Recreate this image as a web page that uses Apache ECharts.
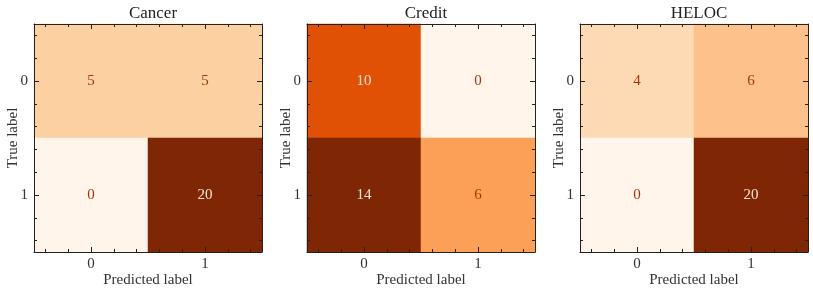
<!DOCTYPE html>
<html><head><meta charset="utf-8">
<script src="https://cdn.jsdelivr.net/npm/echarts@6/dist/echarts.min.js"></script>
<style>html,body{margin:0;padding:0;background:#fff}#c{width:813px;height:292px}</style>
</head><body><div id="c"></div>
<script>
const titles = ["Cancer", "Credit", "HELOC"];
const classLabels = ["0", "1"];
// matrices: rows = true label, cols = predicted label
const cancer = [[5, 5], [0, 20]];
const credit = [[10, 0], [14, 6]];
const heloc = [[4, 6], [0, 20]];
const minorCats = ["a","b","c","d","e","f","g","h","i","j"];
const matrices = [cancer, credit, heloc];
const oranges = ["#fff5eb","#fee6ce","#fdd0a2","#fdae6b","#fd8d3c","#f16913","#d94801","#a63603","#7f2704"];
const FONT = "Liberation Serif";
const lefts = [34, 307, 580];
const W = 228, TOP = 24;

const grids = [], xAxes = [], yAxes = [], series = [], visualMaps = [], titleArr = [];
matrices.forEach((m, i) => {
  const flat = m.flat();
  const mn = Math.min(...flat), mx = Math.max(...flat);
  const thresh = (mn + mx) / 2;
  const g = {left: lefts[i], top: TOP, width: W, height: W, containLabel: false, outerBoundsMode: "none"};
  grids.push(Object.assign({}, g));
  grids.push(Object.assign({}, g));
  const gA = 2 * i, gB = 2 * i + 1;
  const lineStyle = {color: "#222", width: 1};
  const xi = xAxes.length;
  xAxes.push({type: "category", gridIndex: gA, position: "bottom", data: classLabels,
    name: "Predicted label", nameLocation: "middle", nameGap: 21, nameMoveOverlap: false,
    nameTextStyle: {fontFamily: FONT, fontSize: 15, color: "#333", verticalAlign: "top"},
    axisLine: {show: true, lineStyle}, axisTick: {show: true, inside: true, alignWithLabel: true, length: 5, lineStyle},
    axisLabel: {fontFamily: FONT, fontSize: 15, color: "#333", margin: 5}, splitLine: {show: false}, z: 10});
  xAxes.push({type: "category", gridIndex: gA, position: "top", data: classLabels,
    axisLine: {show: true, lineStyle}, axisTick: {show: true, inside: true, alignWithLabel: true, length: 5, lineStyle},
    axisLabel: {show: false}, splitLine: {show: false}, z: 10});
  const yi = yAxes.length;
  yAxes.push({type: "category", gridIndex: gA, position: "left", data: classLabels, inverse: true,
    name: "True label", nameLocation: "middle", nameGap: 13, nameRotate: 90, nameMoveOverlap: false,
    nameTextStyle: {fontFamily: FONT, fontSize: 15, color: "#333", verticalAlign: "bottom"},
    axisLine: {show: true, lineStyle}, axisTick: {show: true, inside: true, alignWithLabel: true, length: 5, lineStyle},
    axisLabel: {fontFamily: FONT, fontSize: 15, color: "#333", margin: 6}, splitLine: {show: false}, z: 10});
  yAxes.push({type: "category", gridIndex: gA, position: "right", data: classLabels, inverse: true,
    axisLine: {show: true, lineStyle}, axisTick: {show: true, inside: true, alignWithLabel: true, length: 5, lineStyle},
    axisLabel: {show: false}, splitLine: {show: false}, z: 10});
  ["bottom", "top"].forEach(p => xAxes.push({type: "category", gridIndex: gB, position: p, data: minorCats,
    axisLine: {show: false}, axisTick: {show: true, inside: true, alignWithLabel: true, interval: 0, length: 3, lineStyle},
    axisLabel: {show: false, interval: 0}, splitLine: {show: false}, z: 10}));
  ["left", "right"].forEach(p => yAxes.push({type: "category", gridIndex: gB, position: p, data: minorCats,
    axisLine: {show: false}, axisTick: {show: true, inside: true, alignWithLabel: true, interval: 0, length: 3, lineStyle},
    axisLabel: {show: false, interval: 0}, splitLine: {show: false}, z: 10}));
  const data = [];
  m.forEach((row, r) => row.forEach((v, c) => data.push([c, r, v])));
  series.push({type: "heatmap", xAxisIndex: xi, yAxisIndex: yi,
    data: data.map(d => ({value: d, label: {color: d[2] > thresh ? "#f7e6d6" : "#a63603"}})),
    label: {show: true, fontFamily: FONT, fontSize: 15, formatter: p => String(p.value[2])},
    emphasis: {disabled: true}, z: 1});
  visualMaps.push({type: "continuous", show: false, seriesIndex: i, dimension: 2, min: mn, max: mx,
    inRange: {color: oranges}});
  titleArr.push({text: titles[i], left: lefts[i] + W / 2, top: 0, textAlign: "center",
    textStyle: {fontFamily: FONT, fontSize: 17, fontWeight: "normal", color: "#222"}});
});

const chart = echarts.init(document.getElementById("c"), null, {renderer: "canvas"});
chart.setOption({animation: false, title: titleArr, grid: grids, xAxis: xAxes, yAxis: yAxes,
  visualMap: visualMaps, series});
</script></body></html>
